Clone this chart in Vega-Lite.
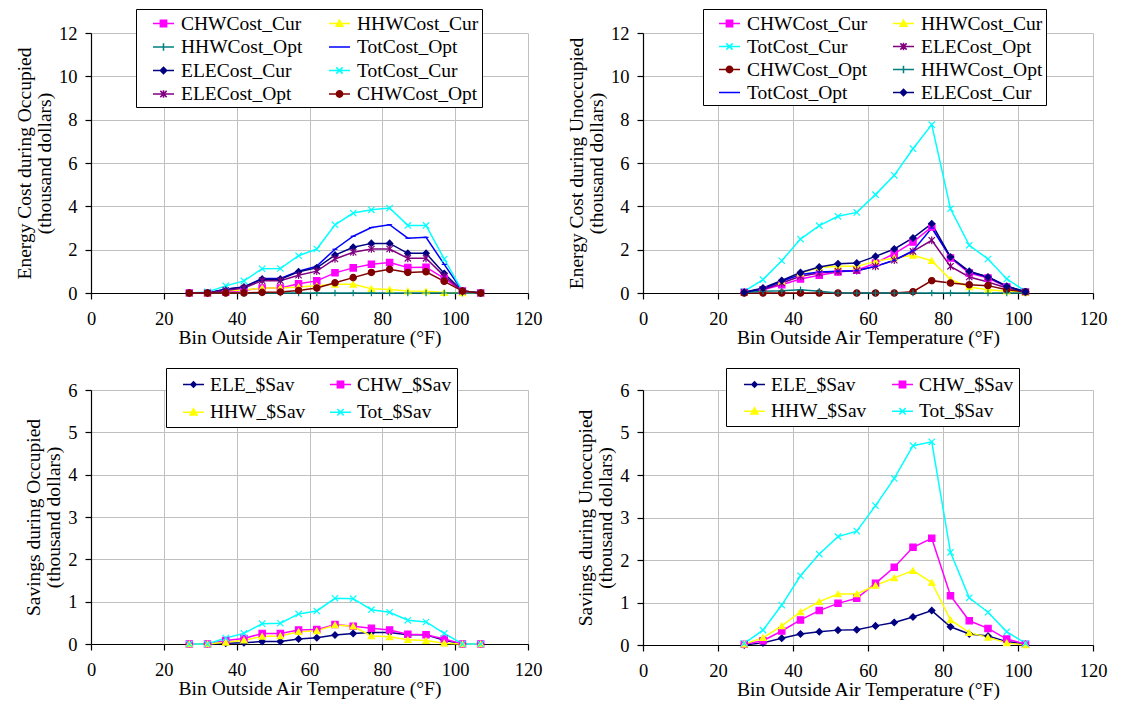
{
"$schema": "https://vega.github.io/schema/vega-lite/v6.json",
"padding": {"left": 14, "top": 8, "right": 5, "bottom": 5},
"background": "white",
"params": [
 {"name": "SYM", "value": {
  "CHWCost_Cur": "M-1,0H1M-0.3,-0.3H0.3V0.3H-0.3Z",
  "HHWCost_Cur": "M-1,0H1M0,-0.33L0.33,0.27H-0.33Z",
  "HHWCost_Opt": "M-1,0H1M0,-0.35V0.35",
  "TotCost_Opt": "M-1,0H1M-0.3,0H0.3",
  "ELECost_Cur": "M-1,0H1M0,-0.3L0.3,0L0,0.3L-0.3,0Z",
  "TotCost_Cur": "M-1,0H1M-0.3,-0.3L0.3,0.3M-0.3,0.3L0.3,-0.3",
  "ELECost_Opt": "M-1,0H1M-0.3,-0.3L0.3,0.3M-0.3,0.3L0.3,-0.3M0,-0.35V0.35",
  "CHWCost_Opt": "M-1,0H1M-0.3,0A0.3,0.3,0,1,0,0.3,0A0.3,0.3,0,1,0,-0.3,0Z",
  "ELE_$Sav": "M-1,0H1M0,-0.25L0.25,0L0,0.25L-0.25,0Z",
  "CHW_$Sav": "M-1,0H1M-0.3,-0.3H0.3V0.3H-0.3Z",
  "HHW_$Sav": "M-1,0H1M0,-0.33L0.33,0.27H-0.33Z",
  "Tot_$Sav": "M-1,0H1M-0.3,-0.3L0.3,0.3M-0.3,0.3L0.3,-0.3"
 }},
 {"name": "COL", "value": {
  "CHWCost_Cur": "#FF00FF", "HHWCost_Cur": "#FFFF00", "HHWCost_Opt": "#008080", "TotCost_Opt": "#0000FF",
  "ELECost_Cur": "#000080", "TotCost_Cur": "#00FFFF", "ELECost_Opt": "#800080", "CHWCost_Opt": "#800000",
  "ELE_$Sav": "#000080", "CHW_$Sav": "#FF00FF", "HHW_$Sav": "#FFFF00", "Tot_$Sav": "#00FFFF"
 }}
],
"datasets": {
 "p1": [
  {"s":"CHWCost_Cur","t":27,"v":0},{"s":"CHWCost_Cur","t":32,"v":0},{"s":"CHWCost_Cur","t":37,"v":0.05},{"s":"CHWCost_Cur","t":42,"v":0.12},{"s":"CHWCost_Cur","t":47,"v":0.23},{"s":"CHWCost_Cur","t":52,"v":0.23},{"s":"CHWCost_Cur","t":57,"v":0.43},{"s":"CHWCost_Cur","t":62,"v":0.56},{"s":"CHWCost_Cur","t":67,"v":0.93},{"s":"CHWCost_Cur","t":72,"v":1.16},{"s":"CHWCost_Cur","t":77,"v":1.33},{"s":"CHWCost_Cur","t":82,"v":1.41},{"s":"CHWCost_Cur","t":87,"v":1.18},{"s":"CHWCost_Cur","t":92,"v":1.19},{"s":"CHWCost_Cur","t":97,"v":0.67},{"s":"CHWCost_Cur","t":102,"v":0.09},{"s":"CHWCost_Cur","t":107,"v":0},
  {"s":"HHWCost_Cur","t":27,"v":0},{"s":"HHWCost_Cur","t":32,"v":0},{"s":"HHWCost_Cur","t":37,"v":0.1},{"s":"HHWCost_Cur","t":42,"v":0.14},{"s":"HHWCost_Cur","t":47,"v":0.23},{"s":"HHWCost_Cur","t":52,"v":0.23},{"s":"HHWCost_Cur","t":57,"v":0.28},{"s":"HHWCost_Cur","t":62,"v":0.33},{"s":"HHWCost_Cur","t":67,"v":0.4},{"s":"HHWCost_Cur","t":72,"v":0.4},{"s":"HHWCost_Cur","t":77,"v":0.2},{"s":"HHWCost_Cur","t":82,"v":0.16},{"s":"HHWCost_Cur","t":87,"v":0.09},{"s":"HHWCost_Cur","t":92,"v":0.08},{"s":"HHWCost_Cur","t":97,"v":0.02},{"s":"HHWCost_Cur","t":102,"v":0},{"s":"HHWCost_Cur","t":107,"v":0},
  {"s":"HHWCost_Opt","t":27,"v":0},{"s":"HHWCost_Opt","t":32,"v":0},{"s":"HHWCost_Opt","t":37,"v":0},{"s":"HHWCost_Opt","t":42,"v":0},{"s":"HHWCost_Opt","t":47,"v":0},{"s":"HHWCost_Opt","t":52,"v":0},{"s":"HHWCost_Opt","t":57,"v":0},{"s":"HHWCost_Opt","t":62,"v":0},{"s":"HHWCost_Opt","t":67,"v":0},{"s":"HHWCost_Opt","t":72,"v":0},{"s":"HHWCost_Opt","t":77,"v":0},{"s":"HHWCost_Opt","t":82,"v":0},{"s":"HHWCost_Opt","t":87,"v":0},{"s":"HHWCost_Opt","t":92,"v":0},{"s":"HHWCost_Opt","t":97,"v":0},{"s":"HHWCost_Opt","t":102,"v":0},{"s":"HHWCost_Opt","t":107,"v":0},
  {"s":"TotCost_Opt","t":27,"v":0},{"s":"TotCost_Opt","t":32,"v":0},{"s":"TotCost_Opt","t":37,"v":0.17},{"s":"TotCost_Opt","t":42,"v":0.28},{"s":"TotCost_Opt","t":47,"v":0.67},{"s":"TotCost_Opt","t":52,"v":0.67},{"s":"TotCost_Opt","t":57,"v":1.0},{"s":"TotCost_Opt","t":62,"v":1.24},{"s":"TotCost_Opt","t":67,"v":2.02},{"s":"TotCost_Opt","t":72,"v":2.62},{"s":"TotCost_Opt","t":77,"v":3.02},{"s":"TotCost_Opt","t":82,"v":3.15},{"s":"TotCost_Opt","t":87,"v":2.53},{"s":"TotCost_Opt","t":92,"v":2.57},{"s":"TotCost_Opt","t":97,"v":1.32},{"s":"TotCost_Opt","t":102,"v":0.09},{"s":"TotCost_Opt","t":107,"v":0},
  {"s":"ELECost_Cur","t":27,"v":0},{"s":"ELECost_Cur","t":32,"v":0},{"s":"ELECost_Cur","t":37,"v":0.17},{"s":"ELECost_Cur","t":42,"v":0.28},{"s":"ELECost_Cur","t":47,"v":0.64},{"s":"ELECost_Cur","t":52,"v":0.64},{"s":"ELECost_Cur","t":57,"v":0.98},{"s":"ELECost_Cur","t":62,"v":1.16},{"s":"ELECost_Cur","t":67,"v":1.75},{"s":"ELECost_Cur","t":72,"v":2.11},{"s":"ELECost_Cur","t":77,"v":2.29},{"s":"ELECost_Cur","t":82,"v":2.29},{"s":"ELECost_Cur","t":87,"v":1.83},{"s":"ELECost_Cur","t":92,"v":1.83},{"s":"ELECost_Cur","t":97,"v":0.9},{"s":"ELECost_Cur","t":102,"v":0.09},{"s":"ELECost_Cur","t":107,"v":0},
  {"s":"TotCost_Cur","t":27,"v":0},{"s":"TotCost_Cur","t":32,"v":0.05},{"s":"TotCost_Cur","t":37,"v":0.33},{"s":"TotCost_Cur","t":42,"v":0.56},{"s":"TotCost_Cur","t":47,"v":1.12},{"s":"TotCost_Cur","t":52,"v":1.13},{"s":"TotCost_Cur","t":57,"v":1.72},{"s":"TotCost_Cur","t":62,"v":2.03},{"s":"TotCost_Cur","t":67,"v":3.15},{"s":"TotCost_Cur","t":72,"v":3.69},{"s":"TotCost_Cur","t":77,"v":3.84},{"s":"TotCost_Cur","t":82,"v":3.92},{"s":"TotCost_Cur","t":87,"v":3.12},{"s":"TotCost_Cur","t":92,"v":3.12},{"s":"TotCost_Cur","t":97,"v":1.57},{"s":"TotCost_Cur","t":102,"v":0.09},{"s":"TotCost_Cur","t":107,"v":0},
  {"s":"ELECost_Opt","t":27,"v":0},{"s":"ELECost_Opt","t":32,"v":0},{"s":"ELECost_Opt","t":37,"v":0.12},{"s":"ELECost_Opt","t":42,"v":0.23},{"s":"ELECost_Opt","t":47,"v":0.57},{"s":"ELECost_Opt","t":52,"v":0.57},{"s":"ELECost_Opt","t":57,"v":0.82},{"s":"ELECost_Opt","t":62,"v":1.01},{"s":"ELECost_Opt","t":67,"v":1.57},{"s":"ELECost_Opt","t":72,"v":1.88},{"s":"ELECost_Opt","t":77,"v":2.03},{"s":"ELECost_Opt","t":82,"v":2.03},{"s":"ELECost_Opt","t":87,"v":1.6},{"s":"ELECost_Opt","t":92,"v":1.6},{"s":"ELECost_Opt","t":97,"v":0.78},{"s":"ELECost_Opt","t":102,"v":0.09},{"s":"ELECost_Opt","t":107,"v":0},
  {"s":"CHWCost_Opt","t":27,"v":0},{"s":"CHWCost_Opt","t":32,"v":0},{"s":"CHWCost_Opt","t":37,"v":0},{"s":"CHWCost_Opt","t":42,"v":0},{"s":"CHWCost_Opt","t":47,"v":0.03},{"s":"CHWCost_Opt","t":52,"v":0.05},{"s":"CHWCost_Opt","t":57,"v":0.12},{"s":"CHWCost_Opt","t":62,"v":0.23},{"s":"CHWCost_Opt","t":67,"v":0.47},{"s":"CHWCost_Opt","t":72,"v":0.71},{"s":"CHWCost_Opt","t":77,"v":0.95},{"s":"CHWCost_Opt","t":82,"v":1.09},{"s":"CHWCost_Opt","t":87,"v":0.95},{"s":"CHWCost_Opt","t":92,"v":0.98},{"s":"CHWCost_Opt","t":97,"v":0.54},{"s":"CHWCost_Opt","t":102,"v":0.09},{"s":"CHWCost_Opt","t":107,"v":0}
 ],
 "p2": [
  {"s":"CHWCost_Cur","t":27,"v":0.03},{"s":"CHWCost_Cur","t":32,"v":0.15},{"s":"CHWCost_Cur","t":37,"v":0.38},{"s":"CHWCost_Cur","t":42,"v":0.65},{"s":"CHWCost_Cur","t":47,"v":0.82},{"s":"CHWCost_Cur","t":52,"v":0.97},{"s":"CHWCost_Cur","t":57,"v":1.05},{"s":"CHWCost_Cur","t":62,"v":1.38},{"s":"CHWCost_Cur","t":67,"v":1.82},{"s":"CHWCost_Cur","t":72,"v":2.35},{"s":"CHWCost_Cur","t":77,"v":3.05},{"s":"CHWCost_Cur","t":82,"v":1.62},{"s":"CHWCost_Cur","t":87,"v":0.92},{"s":"CHWCost_Cur","t":92,"v":0.69},{"s":"CHWCost_Cur","t":97,"v":0.28},{"s":"CHWCost_Cur","t":102,"v":0.06},
  {"s":"HHWCost_Cur","t":27,"v":0.03},{"s":"HHWCost_Cur","t":32,"v":0.18},{"s":"HHWCost_Cur","t":37,"v":0.54},{"s":"HHWCost_Cur","t":42,"v":0.92},{"s":"HHWCost_Cur","t":47,"v":1.18},{"s":"HHWCost_Cur","t":52,"v":1.23},{"s":"HHWCost_Cur","t":57,"v":1.23},{"s":"HHWCost_Cur","t":62,"v":1.46},{"s":"HHWCost_Cur","t":67,"v":1.62},{"s":"HHWCost_Cur","t":72,"v":1.74},{"s":"HHWCost_Cur","t":77,"v":1.49},{"s":"HHWCost_Cur","t":82,"v":0.62},{"s":"HHWCost_Cur","t":87,"v":0.28},{"s":"HHWCost_Cur","t":92,"v":0.15},{"s":"HHWCost_Cur","t":97,"v":0.08},{"s":"HHWCost_Cur","t":102,"v":0.03},
  {"s":"TotCost_Cur","t":27,"v":0.08},{"s":"TotCost_Cur","t":32,"v":0.62},{"s":"TotCost_Cur","t":37,"v":1.49},{"s":"TotCost_Cur","t":42,"v":2.49},{"s":"TotCost_Cur","t":47,"v":3.11},{"s":"TotCost_Cur","t":52,"v":3.54},{"s":"TotCost_Cur","t":57,"v":3.72},{"s":"TotCost_Cur","t":62,"v":4.54},{"s":"TotCost_Cur","t":67,"v":5.43},{"s":"TotCost_Cur","t":72,"v":6.66},{"s":"TotCost_Cur","t":77,"v":7.77},{"s":"TotCost_Cur","t":82,"v":3.89},{"s":"TotCost_Cur","t":87,"v":2.2},{"s":"TotCost_Cur","t":92,"v":1.57},{"s":"TotCost_Cur","t":97,"v":0.65},{"s":"TotCost_Cur","t":102,"v":0.08},
  {"s":"ELECost_Opt","t":27,"v":0.03},{"s":"ELECost_Opt","t":32,"v":0.15},{"s":"ELECost_Opt","t":37,"v":0.46},{"s":"ELECost_Opt","t":42,"v":0.77},{"s":"ELECost_Opt","t":47,"v":0.92},{"s":"ELECost_Opt","t":52,"v":1.0},{"s":"ELECost_Opt","t":57,"v":1.03},{"s":"ELECost_Opt","t":62,"v":1.23},{"s":"ELECost_Opt","t":67,"v":1.51},{"s":"ELECost_Opt","t":72,"v":1.92},{"s":"ELECost_Opt","t":77,"v":2.43},{"s":"ELECost_Opt","t":82,"v":1.23},{"s":"ELECost_Opt","t":87,"v":0.74},{"s":"ELECost_Opt","t":92,"v":0.51},{"s":"ELECost_Opt","t":97,"v":0.23},{"s":"ELECost_Opt","t":102,"v":0.05},
  {"s":"CHWCost_Opt","t":27,"v":0},{"s":"CHWCost_Opt","t":32,"v":0},{"s":"CHWCost_Opt","t":37,"v":0},{"s":"CHWCost_Opt","t":42,"v":0},{"s":"CHWCost_Opt","t":47,"v":0},{"s":"CHWCost_Opt","t":52,"v":0},{"s":"CHWCost_Opt","t":57,"v":0},{"s":"CHWCost_Opt","t":62,"v":0},{"s":"CHWCost_Opt","t":67,"v":0},{"s":"CHWCost_Opt","t":72,"v":0.06},{"s":"CHWCost_Opt","t":77,"v":0.57},{"s":"CHWCost_Opt","t":82,"v":0.46},{"s":"CHWCost_Opt","t":87,"v":0.38},{"s":"CHWCost_Opt","t":92,"v":0.34},{"s":"CHWCost_Opt","t":97,"v":0.15},{"s":"CHWCost_Opt","t":102,"v":0.05},
  {"s":"HHWCost_Opt","t":27,"v":0.03},{"s":"HHWCost_Opt","t":32,"v":0.08},{"s":"HHWCost_Opt","t":37,"v":0.1},{"s":"HHWCost_Opt","t":42,"v":0.15},{"s":"HHWCost_Opt","t":47,"v":0.08},{"s":"HHWCost_Opt","t":52,"v":0},{"s":"HHWCost_Opt","t":57,"v":0},{"s":"HHWCost_Opt","t":62,"v":0},{"s":"HHWCost_Opt","t":67,"v":0},{"s":"HHWCost_Opt","t":72,"v":0},{"s":"HHWCost_Opt","t":77,"v":0},{"s":"HHWCost_Opt","t":82,"v":0},{"s":"HHWCost_Opt","t":87,"v":0},{"s":"HHWCost_Opt","t":92,"v":0},{"s":"HHWCost_Opt","t":97,"v":0},{"s":"HHWCost_Opt","t":102,"v":0},
  {"s":"TotCost_Opt","t":27,"v":0.03},{"s":"TotCost_Opt","t":32,"v":0.2},{"s":"TotCost_Opt","t":37,"v":0.54},{"s":"TotCost_Opt","t":42,"v":0.85},{"s":"TotCost_Opt","t":47,"v":0.97},{"s":"TotCost_Opt","t":52,"v":1.0},{"s":"TotCost_Opt","t":57,"v":1.03},{"s":"TotCost_Opt","t":62,"v":1.23},{"s":"TotCost_Opt","t":67,"v":1.51},{"s":"TotCost_Opt","t":72,"v":1.95},{"s":"TotCost_Opt","t":77,"v":3.0},{"s":"TotCost_Opt","t":82,"v":1.65},{"s":"TotCost_Opt","t":87,"v":0.97},{"s":"TotCost_Opt","t":92,"v":0.74},{"s":"TotCost_Opt","t":97,"v":0.31},{"s":"TotCost_Opt","t":102,"v":0.06},
  {"s":"ELECost_Cur","t":27,"v":0.03},{"s":"ELECost_Cur","t":32,"v":0.23},{"s":"ELECost_Cur","t":37,"v":0.58},{"s":"ELECost_Cur","t":42,"v":0.95},{"s":"ELECost_Cur","t":47,"v":1.2},{"s":"ELECost_Cur","t":52,"v":1.35},{"s":"ELECost_Cur","t":57,"v":1.38},{"s":"ELECost_Cur","t":62,"v":1.69},{"s":"ELECost_Cur","t":67,"v":2.03},{"s":"ELECost_Cur","t":72,"v":2.54},{"s":"ELECost_Cur","t":77,"v":3.2},{"s":"ELECost_Cur","t":82,"v":1.66},{"s":"ELECost_Cur","t":87,"v":1.0},{"s":"ELECost_Cur","t":92,"v":0.74},{"s":"ELECost_Cur","t":97,"v":0.31},{"s":"ELECost_Cur","t":102,"v":0.06}
 ],
 "p3": [
  {"s":"ELE_$Sav","t":27,"v":0},{"s":"ELE_$Sav","t":32,"v":0},{"s":"ELE_$Sav","t":37,"v":0.02},{"s":"ELE_$Sav","t":42,"v":0.03},{"s":"ELE_$Sav","t":47,"v":0.06},{"s":"ELE_$Sav","t":52,"v":0.06},{"s":"ELE_$Sav","t":57,"v":0.12},{"s":"ELE_$Sav","t":62,"v":0.15},{"s":"ELE_$Sav","t":67,"v":0.21},{"s":"ELE_$Sav","t":72,"v":0.25},{"s":"ELE_$Sav","t":77,"v":0.27},{"s":"ELE_$Sav","t":82,"v":0.27},{"s":"ELE_$Sav","t":87,"v":0.22},{"s":"ELE_$Sav","t":92,"v":0.22},{"s":"ELE_$Sav","t":97,"v":0.09},{"s":"ELE_$Sav","t":102,"v":0},{"s":"ELE_$Sav","t":107,"v":0},
  {"s":"CHW_$Sav","t":27,"v":0},{"s":"CHW_$Sav","t":32,"v":0},{"s":"CHW_$Sav","t":37,"v":0.08},{"s":"CHW_$Sav","t":42,"v":0.13},{"s":"CHW_$Sav","t":47,"v":0.25},{"s":"CHW_$Sav","t":52,"v":0.25},{"s":"CHW_$Sav","t":57,"v":0.33},{"s":"CHW_$Sav","t":62,"v":0.34},{"s":"CHW_$Sav","t":67,"v":0.46},{"s":"CHW_$Sav","t":72,"v":0.42},{"s":"CHW_$Sav","t":77,"v":0.37},{"s":"CHW_$Sav","t":82,"v":0.33},{"s":"CHW_$Sav","t":87,"v":0.23},{"s":"CHW_$Sav","t":92,"v":0.22},{"s":"CHW_$Sav","t":97,"v":0.12},{"s":"CHW_$Sav","t":102,"v":0},{"s":"CHW_$Sav","t":107,"v":0},
  {"s":"HHW_$Sav","t":27,"v":0},{"s":"HHW_$Sav","t":32,"v":0},{"s":"HHW_$Sav","t":37,"v":0.04},{"s":"HHW_$Sav","t":42,"v":0.09},{"s":"HHW_$Sav","t":47,"v":0.18},{"s":"HHW_$Sav","t":52,"v":0.19},{"s":"HHW_$Sav","t":57,"v":0.29},{"s":"HHW_$Sav","t":62,"v":0.31},{"s":"HHW_$Sav","t":67,"v":0.45},{"s":"HHW_$Sav","t":72,"v":0.42},{"s":"HHW_$Sav","t":77,"v":0.19},{"s":"HHW_$Sav","t":82,"v":0.17},{"s":"HHW_$Sav","t":87,"v":0.1},{"s":"HHW_$Sav","t":92,"v":0.08},{"s":"HHW_$Sav","t":97,"v":0.02},{"s":"HHW_$Sav","t":102,"v":0},{"s":"HHW_$Sav","t":107,"v":0},
  {"s":"Tot_$Sav","t":27,"v":0},{"s":"Tot_$Sav","t":32,"v":0},{"s":"Tot_$Sav","t":37,"v":0.14},{"s":"Tot_$Sav","t":42,"v":0.25},{"s":"Tot_$Sav","t":47,"v":0.48},{"s":"Tot_$Sav","t":52,"v":0.49},{"s":"Tot_$Sav","t":57,"v":0.71},{"s":"Tot_$Sav","t":62,"v":0.78},{"s":"Tot_$Sav","t":67,"v":1.08},{"s":"Tot_$Sav","t":72,"v":1.07},{"s":"Tot_$Sav","t":77,"v":0.81},{"s":"Tot_$Sav","t":82,"v":0.75},{"s":"Tot_$Sav","t":87,"v":0.56},{"s":"Tot_$Sav","t":92,"v":0.52},{"s":"Tot_$Sav","t":97,"v":0.25},{"s":"Tot_$Sav","t":102,"v":0},{"s":"Tot_$Sav","t":107,"v":0}
 ],
 "p4": [
  {"s":"ELE_$Sav","t":27,"v":0},{"s":"ELE_$Sav","t":32,"v":0.05},{"s":"ELE_$Sav","t":37,"v":0.16},{"s":"ELE_$Sav","t":42,"v":0.26},{"s":"ELE_$Sav","t":47,"v":0.31},{"s":"ELE_$Sav","t":52,"v":0.35},{"s":"ELE_$Sav","t":57,"v":0.36},{"s":"ELE_$Sav","t":62,"v":0.45},{"s":"ELE_$Sav","t":67,"v":0.53},{"s":"ELE_$Sav","t":72,"v":0.66},{"s":"ELE_$Sav","t":77,"v":0.81},{"s":"ELE_$Sav","t":82,"v":0.43},{"s":"ELE_$Sav","t":87,"v":0.26},{"s":"ELE_$Sav","t":92,"v":0.21},{"s":"ELE_$Sav","t":97,"v":0.08},{"s":"ELE_$Sav","t":102,"v":0.02},
  {"s":"CHW_$Sav","t":27,"v":0.02},{"s":"CHW_$Sav","t":32,"v":0.1},{"s":"CHW_$Sav","t":37,"v":0.33},{"s":"CHW_$Sav","t":42,"v":0.59},{"s":"CHW_$Sav","t":47,"v":0.81},{"s":"CHW_$Sav","t":52,"v":0.98},{"s":"CHW_$Sav","t":57,"v":1.1},{"s":"CHW_$Sav","t":62,"v":1.45},{"s":"CHW_$Sav","t":67,"v":1.83},{"s":"CHW_$Sav","t":72,"v":2.3},{"s":"CHW_$Sav","t":77,"v":2.51},{"s":"CHW_$Sav","t":82,"v":1.16},{"s":"CHW_$Sav","t":87,"v":0.57},{"s":"CHW_$Sav","t":92,"v":0.39},{"s":"CHW_$Sav","t":97,"v":0.14},{"s":"CHW_$Sav","t":102,"v":0.02},
  {"s":"HHW_$Sav","t":27,"v":0.02},{"s":"HHW_$Sav","t":32,"v":0.17},{"s":"HHW_$Sav","t":37,"v":0.45},{"s":"HHW_$Sav","t":42,"v":0.78},{"s":"HHW_$Sav","t":47,"v":1.02},{"s":"HHW_$Sav","t":52,"v":1.2},{"s":"HHW_$Sav","t":57,"v":1.2},{"s":"HHW_$Sav","t":62,"v":1.4},{"s":"HHW_$Sav","t":67,"v":1.58},{"s":"HHW_$Sav","t":72,"v":1.75},{"s":"HHW_$Sav","t":77,"v":1.47},{"s":"HHW_$Sav","t":82,"v":0.59},{"s":"HHW_$Sav","t":87,"v":0.29},{"s":"HHW_$Sav","t":92,"v":0.18},{"s":"HHW_$Sav","t":97,"v":0.05},{"s":"HHW_$Sav","t":102,"v":0},
  {"s":"Tot_$Sav","t":27,"v":0.04},{"s":"Tot_$Sav","t":32,"v":0.35},{"s":"Tot_$Sav","t":37,"v":0.94},{"s":"Tot_$Sav","t":42,"v":1.63},{"s":"Tot_$Sav","t":47,"v":2.14},{"s":"Tot_$Sav","t":52,"v":2.55},{"s":"Tot_$Sav","t":57,"v":2.68},{"s":"Tot_$Sav","t":62,"v":3.28},{"s":"Tot_$Sav","t":67,"v":3.92},{"s":"Tot_$Sav","t":72,"v":4.69},{"s":"Tot_$Sav","t":77,"v":4.78},{"s":"Tot_$Sav","t":82,"v":2.18},{"s":"Tot_$Sav","t":87,"v":1.11},{"s":"Tot_$Sav","t":92,"v":0.77},{"s":"Tot_$Sav","t":97,"v":0.31},{"s":"Tot_$Sav","t":102,"v":0.04}
 ]
},
"columns": 2,
"align": "each",
"spacing": {"row": 20, "column": 24},
"resolve": {"scale": {"color": "independent", "shape": "independent", "stroke": "independent", "x": "independent", "y": "independent"}, "legend": {"color": "independent"}},
"concat": [
 {
  "width": 437, "height": 260,
  "data": {"name": "p1"},
  "encoding": {
   "x": {"field": "t", "type": "quantitative", "scale": {"domain": [0, 120], "nice": false}, "axis": {"values": [0, 20, 40, 60, 80, 100, 120], "title": "Bin Outside Air Temperature (°F)"}},
   "y": {"field": "v", "type": "quantitative", "scale": {"domain": [0, 12], "nice": false}, "axis": {"values": [0, 2, 4, 6, 8, 10, 12], "title": ["Energy Cost during Occupied", "(thousand dollars)"]}},
   "color": {"field": "s", "type": "nominal",
    "scale": {"domain": ["CHWCost_Cur", "HHWCost_Opt", "ELECost_Cur", "ELECost_Opt", "HHWCost_Cur", "TotCost_Opt", "TotCost_Cur", "CHWCost_Opt"], "range": ["#FF00FF", "#008080", "#000080", "#800080", "#FFFF00", "#0000FF", "#00FFFF", "#800000"]},
    "legend": {"title": null, "orient": "none", "legendX": 45, "legendY": -24, "columns": 2, "padding": 3, "rowPadding": 2.5, "columnPadding": 12, "symbolOffset": 13, "labelOffset": 6,
     "encode": {"symbols": {"update": {"shape": {"signal": "SYM[datum.value]"}, "fill": {"signal": "COL[datum.value]"}, "stroke": {"signal": "COL[datum.value]"}, "strokeWidth": {"value": 1.5}, "opacity": {"value": 1}}}}}}
  },
  "layer": [
   {"mark": {"type": "line", "strokeWidth": 1.5}},
   {"mark": {"type": "point", "filled": true, "size": 40, "strokeWidth": 1.2, "opacity": 1},
    "encoding": {
     "shape": {"field": "s", "type": "nominal", "legend": null, "scale": {"domain": ["CHWCost_Opt", "TotCost_Cur", "TotCost_Opt", "HHWCost_Cur", "ELECost_Opt", "ELECost_Cur", "HHWCost_Opt", "CHWCost_Cur"], "range": ["circle", "M-1,-1L1,1M-1,1L1,-1", "M-0.8,0H0.8", "triangle-up", "M-1,-1L1,1M-1,1L1,-1M0,-1.2V1.2", "diamond", "M-1,0H1M0,-1V1", "square"]}},
     "stroke": {"field": "s", "type": "nominal", "legend": null, "scale": {"domain": ["HHWCost_Opt", "ELECost_Cur", "ELECost_Opt", "HHWCost_Cur", "TotCost_Opt", "TotCost_Cur", "CHWCost_Opt", "CHWCost_Cur"], "range": ["#008080", "#000080", "#800080", "#FFFF00", "#0000FF", "#00FFFF", "#800000", "#FF00FF"]}}
    }}
  ]
 },
 {
  "width": 450, "height": 260,
  "data": {"name": "p2"},
  "encoding": {
   "x": {"field": "t", "type": "quantitative", "scale": {"domain": [0, 120], "nice": false}, "axis": {"values": [0, 20, 40, 60, 80, 100, 120], "title": "Bin Outside Air Temperature (°F)"}},
   "y": {"field": "v", "type": "quantitative", "scale": {"domain": [0, 12], "nice": false}, "axis": {"values": [0, 2, 4, 6, 8, 10, 12], "title": ["Energy Cost during Unoccupied", "(thousand dollars)"]}},
   "color": {"field": "s", "type": "nominal",
    "scale": {"domain": ["CHWCost_Cur", "TotCost_Cur", "CHWCost_Opt", "TotCost_Opt", "HHWCost_Cur", "ELECost_Opt", "HHWCost_Opt", "ELECost_Cur"], "range": ["#FF00FF", "#00FFFF", "#800000", "#0000FF", "#FFFF00", "#800080", "#008080", "#000080"]},
    "legend": {"title": null, "orient": "none", "legendX": 60, "legendY": -24, "columns": 2, "padding": 3, "rowPadding": 2, "columnPadding": 12, "symbolOffset": 12, "labelOffset": 6,
     "encode": {"symbols": {"update": {"shape": {"signal": "SYM[datum.value]"}, "fill": {"signal": "COL[datum.value]"}, "stroke": {"signal": "COL[datum.value]"}, "strokeWidth": {"value": 1.5}, "opacity": {"value": 1}}}}}}
  },
  "layer": [
   {"mark": {"type": "line", "strokeWidth": 1.5}},
   {"mark": {"type": "point", "filled": true, "size": 40, "strokeWidth": 1.2, "opacity": 1},
    "encoding": {
     "shape": {"field": "s", "type": "nominal", "legend": null, "scale": {"domain": ["ELECost_Cur", "HHWCost_Opt", "ELECost_Opt", "HHWCost_Cur", "TotCost_Opt", "CHWCost_Opt", "TotCost_Cur", "CHWCost_Cur"], "range": ["diamond", "M-1,0H1M0,-1V1", "M-1,-1L1,1M-1,1L1,-1M0,-1.2V1.2", "triangle-up", "M-0.8,0H0.8", "circle", "M-1,-1L1,1M-1,1L1,-1", "square"]}},
     "stroke": {"field": "s", "type": "nominal", "legend": null, "scale": {"domain": ["TotCost_Cur", "CHWCost_Opt", "TotCost_Opt", "HHWCost_Cur", "ELECost_Opt", "HHWCost_Opt", "ELECost_Cur", "CHWCost_Cur"], "range": ["#00FFFF", "#800000", "#0000FF", "#FFFF00", "#800080", "#008080", "#000080", "#FF00FF"]}}
    }}
  ]
 },
 {
  "width": 437, "height": 254,
  "data": {"name": "p3"},
  "encoding": {
   "x": {"field": "t", "type": "quantitative", "scale": {"domain": [0, 120], "nice": false}, "axis": {"values": [0, 20, 40, 60, 80, 100, 120], "title": "Bin Outside Air Temperature (°F)"}},
   "y": {"field": "v", "type": "quantitative", "scale": {"domain": [0, 6], "nice": false}, "axis": {"values": [0, 1, 2, 3, 4, 5, 6], "title": ["Savings during Occupied", "(thousand dollars)"]}},
   "color": {"field": "s", "type": "nominal",
    "scale": {"domain": ["ELE_$Sav", "HHW_$Sav", "CHW_$Sav", "Tot_$Sav"], "range": ["#000080", "#FFFF00", "#FF00FF", "#00FFFF"]},
    "legend": {"title": null, "orient": "none", "legendX": 75, "legendY": -22, "columns": 2, "padding": 5, "rowPadding": 6.7, "columnPadding": 12, "symbolOffset": 11, "labelOffset": 5,
     "encode": {"symbols": {"update": {"shape": {"signal": "SYM[datum.value]"}, "fill": {"signal": "COL[datum.value]"}, "stroke": {"signal": "COL[datum.value]"}, "strokeWidth": {"value": 1.5}, "opacity": {"value": 1}}}}}}
  },
  "layer": [
   {"mark": {"type": "line", "strokeWidth": 1.5}},
   {"mark": {"type": "point", "filled": true, "size": 40, "strokeWidth": 1.2, "opacity": 1},
    "encoding": {
     "shape": {"field": "s", "type": "nominal", "legend": null, "scale": {"domain": ["Tot_$Sav", "CHW_$Sav", "HHW_$Sav", "ELE_$Sav"], "range": ["M-1,-1L1,1M-1,1L1,-1", "square", "triangle-up", "diamond"]}},
     "stroke": {"field": "s", "type": "nominal", "legend": null, "scale": {"domain": ["HHW_$Sav", "CHW_$Sav", "Tot_$Sav", "ELE_$Sav"], "range": ["#FFFF00", "#FF00FF", "#00FFFF", "#000080"]}}
    }}
  ]
 },
 {
  "width": 450, "height": 255,
  "data": {"name": "p4"},
  "encoding": {
   "x": {"field": "t", "type": "quantitative", "scale": {"domain": [0, 120], "nice": false}, "axis": {"values": [0, 20, 40, 60, 80, 100, 120], "title": "Bin Outside Air Temperature (°F)"}},
   "y": {"field": "v", "type": "quantitative", "scale": {"domain": [0, 6], "nice": false}, "axis": {"values": [0, 1, 2, 3, 4, 5, 6], "title": ["Savings during Unoccupied", "(thousand dollars)"]}},
   "color": {"field": "s", "type": "nominal",
    "scale": {"domain": ["ELE_$Sav", "HHW_$Sav", "CHW_$Sav", "Tot_$Sav"], "range": ["#000080", "#FFFF00", "#FF00FF", "#00FFFF"]},
    "legend": {"title": null, "orient": "none", "legendX": 83, "legendY": -22, "columns": 2, "padding": 5, "rowPadding": 5.7, "columnPadding": 12, "symbolOffset": 12, "labelOffset": 5,
     "encode": {"symbols": {"update": {"shape": {"signal": "SYM[datum.value]"}, "fill": {"signal": "COL[datum.value]"}, "stroke": {"signal": "COL[datum.value]"}, "strokeWidth": {"value": 1.5}, "opacity": {"value": 1}}}}}}
  },
  "layer": [
   {"mark": {"type": "line", "strokeWidth": 1.5}},
   {"mark": {"type": "point", "filled": true, "size": 40, "strokeWidth": 1.2, "opacity": 1},
    "encoding": {
     "shape": {"field": "s", "type": "nominal", "legend": null, "scale": {"domain": ["Tot_$Sav", "CHW_$Sav", "HHW_$Sav", "ELE_$Sav"], "range": ["M-1,-1L1,1M-1,1L1,-1", "square", "triangle-up", "diamond"]}},
     "stroke": {"field": "s", "type": "nominal", "legend": null, "scale": {"domain": ["HHW_$Sav", "CHW_$Sav", "Tot_$Sav", "ELE_$Sav"], "range": ["#FFFF00", "#FF00FF", "#00FFFF", "#000080"]}}
    }}
  ]
 }
],
"config": {
 "font": "Liberation Serif",
 "view": {"stroke": null},
 "axis": {"labelFont": "Liberation Serif", "titleFont": "Liberation Serif", "labelFontSize": 18.5, "titleFontSize": 19.5, "titleFontWeight": "normal", "labelColor": "black", "titleColor": "black", "domainColor": "black", "tickColor": "black", "tickSize": 6, "gridColor": "#c0c0c0", "gridWidth": 1, "domainWidth": 1.2, "tickWidth": 1.2, "labelFlush": false, "labelOverlap": false},
 "axisX": {"labelPadding": 10, "titlePadding": 1},
 "axisY": {"labelPadding": 8, "titlePadding": 4, "titleLineHeight": 20},
 "legend": {"labelFont": "Liberation Serif", "labelFontSize": 19.5, "labelColor": "black", "strokeColor": "black", "fillColor": "white", "symbolSize": 441, "labelLimit": 300}
}
}
